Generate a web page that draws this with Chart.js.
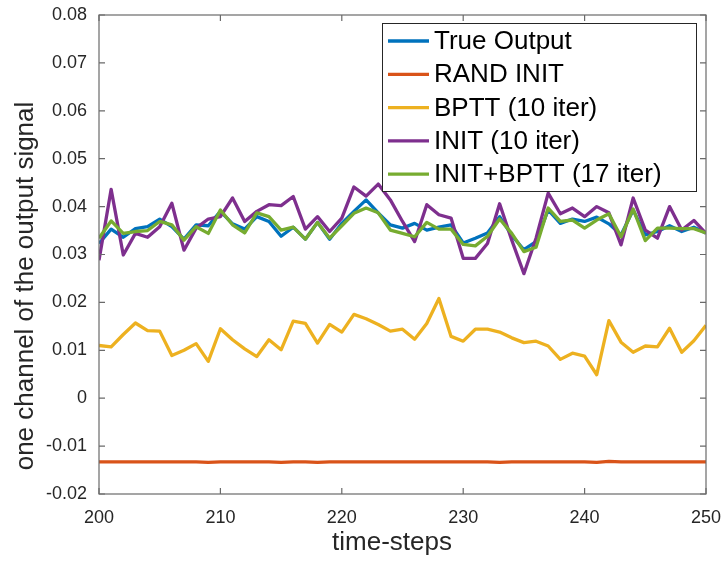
<!DOCTYPE html>
<html>
<head>
<meta charset="utf-8">
<script src="https://cdn.jsdelivr.net/npm/chart.js@4"></script>
<style>
  html, body { margin: 0; padding: 0; background: #fff; }
  #chart { display: block; }
</style>
</head>
<body>
<canvas id="chart" width="721" height="561"></canvas>
<script>
// time axis (x)
const steps = [200, 201, 202, 203, 204, 205, 206, 207, 208, 209,
               210, 211, 212, 213, 214, 215, 216, 217, 218, 219,
               220, 221, 222, 223, 224, 225, 226, 227, 228, 229,
               230, 231, 232, 233, 234, 235, 236, 237, 238, 239,
               240, 241, 242, 243, 244, 245, 246, 247, 248, 249, 250];

// values
const trueOutput = [0.0323, 0.0353, 0.0336, 0.0354, 0.0358, 0.0374, 0.0358, 0.0332, 0.0362, 0.0360,
                    0.0390, 0.0364, 0.0353, 0.0379, 0.0369, 0.0338, 0.0357, 0.0332, 0.0367, 0.0332,
                    0.0365, 0.0390, 0.0414, 0.0387, 0.0362, 0.0355, 0.0365, 0.0351, 0.0357, 0.0362,
                    0.0324, 0.0334, 0.0345, 0.0379, 0.0340, 0.0310, 0.0327, 0.0393, 0.0365, 0.0374,
                    0.0369, 0.0378, 0.0364, 0.0341, 0.0393, 0.0341, 0.0348, 0.0360, 0.0348, 0.0357, 0.0345];

const randInit = [-0.0133, -0.0133, -0.0133, -0.0133, -0.0133, -0.0133, -0.0133, -0.0133, -0.0133, -0.0134,
                  -0.0133, -0.0133, -0.0133, -0.0133, -0.0133, -0.0134, -0.0133, -0.0133, -0.0134, -0.0133,
                  -0.0133, -0.0133, -0.0133, -0.0133, -0.0133, -0.0133, -0.0133, -0.0133, -0.0133, -0.0133,
                  -0.0133, -0.0133, -0.0133, -0.0134, -0.0133, -0.0133, -0.0133, -0.0133, -0.0133, -0.0133,
                  -0.0133, -0.0134, -0.0132, -0.0133, -0.0133, -0.0133, -0.0133, -0.0133, -0.0133, -0.0133, -0.0133];

const bptt10 = [0.0110, 0.0107, 0.0133, 0.0157, 0.0141, 0.0140, 0.0089, 0.0100, 0.0114, 0.0077,
                0.0145, 0.0122, 0.0103, 0.0087, 0.0122, 0.0101, 0.0161, 0.0156, 0.0115, 0.0154,
                0.0138, 0.0175, 0.0166, 0.0154, 0.0140, 0.0144, 0.0123, 0.0156, 0.0208, 0.0129,
                0.0119, 0.0144, 0.0144, 0.0138, 0.0126, 0.0116, 0.0119, 0.0109, 0.0081, 0.0094,
                0.0088, 0.0049, 0.0162, 0.0117, 0.0096, 0.0109, 0.0107, 0.0146, 0.0096, 0.0120, 0.0152];

const init10 = [0.0288, 0.0436, 0.0299, 0.0344, 0.0336, 0.0358, 0.0407, 0.0309, 0.0355, 0.0374,
                0.0379, 0.0418, 0.0369, 0.0390, 0.0404, 0.0402, 0.0421, 0.0353, 0.0379, 0.0348,
                0.0376, 0.0441, 0.0422, 0.0447, 0.0414, 0.0369, 0.0327, 0.0404, 0.0383, 0.0376,
                0.0292, 0.0292, 0.0323, 0.0406, 0.0330, 0.0260, 0.0334, 0.0428, 0.0385, 0.0397,
                0.0379, 0.0400, 0.0387, 0.0320, 0.0418, 0.0351, 0.0334, 0.0400, 0.0351, 0.0371, 0.0344];

const initBptt17 = [0.0334, 0.0370, 0.0344, 0.0348, 0.0350, 0.0369, 0.0362, 0.0330, 0.0358, 0.0344,
                    0.0393, 0.0362, 0.0345, 0.0387, 0.0379, 0.0351, 0.0357, 0.0332, 0.0367, 0.0334,
                    0.0360, 0.0386, 0.0397, 0.0387, 0.0351, 0.0344, 0.0337, 0.0367, 0.0353, 0.0353,
                    0.0321, 0.0318, 0.0338, 0.0374, 0.0344, 0.0306, 0.0315, 0.0397, 0.0369, 0.0372,
                    0.0355, 0.0372, 0.0385, 0.0337, 0.0395, 0.0329, 0.0355, 0.0355, 0.0354, 0.0354, 0.0345];

const seriesNames = ['True Output', 'RAND INIT', 'BPTT (10 iter)', 'INIT (10 iter)', 'INIT+BPTT (17 iter)'];
const seriesColors = ['#0072BD', '#D95319', '#EDB120', '#7E2F8E', '#77AC30'];
const seriesValues = [trueOutput, randInit, bptt10, init10, initBptt17];

const xTitle = 'time-steps';
const yTitle = 'one channel of the output signal';

const axisColor = '#6a6a6a';
const textColor = '#262626';
Chart.defaults.font.family = "'Liberation Sans', Arial, sans-serif";

// draws the box, inward ticks, axis titles and the legend (MATLAB look)
const matlabFrame = {
  id: 'matlabFrame',
  afterDatasetsDraw(chart) {
    const ctx = chart.ctx;
    const area = chart.chartArea;
    const xs = chart.scales.x;
    const ys = chart.scales.y;
    ctx.save();
    ctx.strokeStyle = axisColor;
    ctx.lineWidth = 1.2;
    ctx.strokeRect(area.left, area.top, area.right - area.left, area.bottom - area.top);
    const tl = 6;
    ctx.beginPath();
    xs.ticks.forEach(t => {
      const px = xs.getPixelForValue(t.value);
      ctx.moveTo(px, area.bottom); ctx.lineTo(px, area.bottom - tl);
      ctx.moveTo(px, area.top); ctx.lineTo(px, area.top + tl);
    });
    ys.ticks.forEach(t => {
      const py = ys.getPixelForValue(t.value);
      ctx.moveTo(area.left, py); ctx.lineTo(area.left + tl, py);
      ctx.moveTo(area.right, py); ctx.lineTo(area.right - tl, py);
    });
    ctx.stroke();

    // axis titles
    ctx.fillStyle = textColor;
    ctx.font = "26px 'Liberation Sans', Arial, sans-serif";
    ctx.textAlign = 'center';
    ctx.textBaseline = 'alphabetic';
    ctx.fillText(xTitle, 392, 550);
    ctx.save();
    ctx.translate(33, 286);
    ctx.rotate(-Math.PI / 2);
    ctx.fillText(yTitle, 0, 0);
    ctx.restore();

    // legend
    const lx = 382.5, ly = 23.5, lw = 314, lh = 168;
    ctx.fillStyle = '#fff';
    ctx.fillRect(lx, ly, lw, lh);
    ctx.strokeStyle = '#262626';
    ctx.lineWidth = 1;
    ctx.strokeRect(lx, ly, lw, lh);
    ctx.textAlign = 'left';
    ctx.textBaseline = 'middle';
    seriesNames.forEach((name, i) => {
      const cy = 41 + i * 33.3;
      ctx.strokeStyle = seriesColors[i];
      ctx.lineWidth = 3.3;
      ctx.beginPath();
      ctx.moveTo(388, cy); ctx.lineTo(429, cy);
      ctx.stroke();
      ctx.fillStyle = '#000';
      ctx.fillText(name, 434, cy + 1);
    });
    ctx.restore();
  }
};

const datasets = seriesValues.map((vals, i) => ({
  label: seriesNames[i],
  data: vals.map((v, k) => ({ x: steps[k], y: v })),
  borderColor: seriesColors[i],
  backgroundColor: seriesColors[i],
  borderWidth: 3.3,
  pointRadius: 0,
  tension: 0,
  borderJoinStyle: 'round',
  order: seriesValues.length - i
}));

// keep the plot box fixed: no extra room for overhanging tick labels
function noOverhang(s) {
  s.paddingLeft = 0; s.paddingRight = 0; s.paddingTop = 0; s.paddingBottom = 0;
}

new Chart(document.getElementById('chart'), {
  type: 'line',
  data: { datasets },
  options: {
    responsive: false,
    animation: false,
    layout: { padding: { top: 15, right: 15, left: 0, bottom: 0 } },
    plugins: { legend: { display: false }, tooltip: { enabled: false } },
    scales: {
      x: {
        type: 'linear',
        min: 200, max: 250,
        afterFit: s => { s.height = 67; noOverhang(s); },
        grid: { display: false, drawTicks: false },
        border: { display: false },
        ticks: { stepSize: 10, padding: 13, color: textColor, font: { size: 18 }, maxRotation: 0 }
      },
      y: {
        min: -0.02, max: 0.08,
        afterFit: s => { s.width = 99; noOverhang(s); },
        grid: { display: false, drawTicks: false },
        border: { display: false },
        ticks: {
          stepSize: 0.01, padding: 12, color: textColor, font: { size: 18 },
          callback: v => String(Number(v.toFixed(2)))
        }
      }
    }
  },
  plugins: [matlabFrame]
});
</script>
</body>
</html>
